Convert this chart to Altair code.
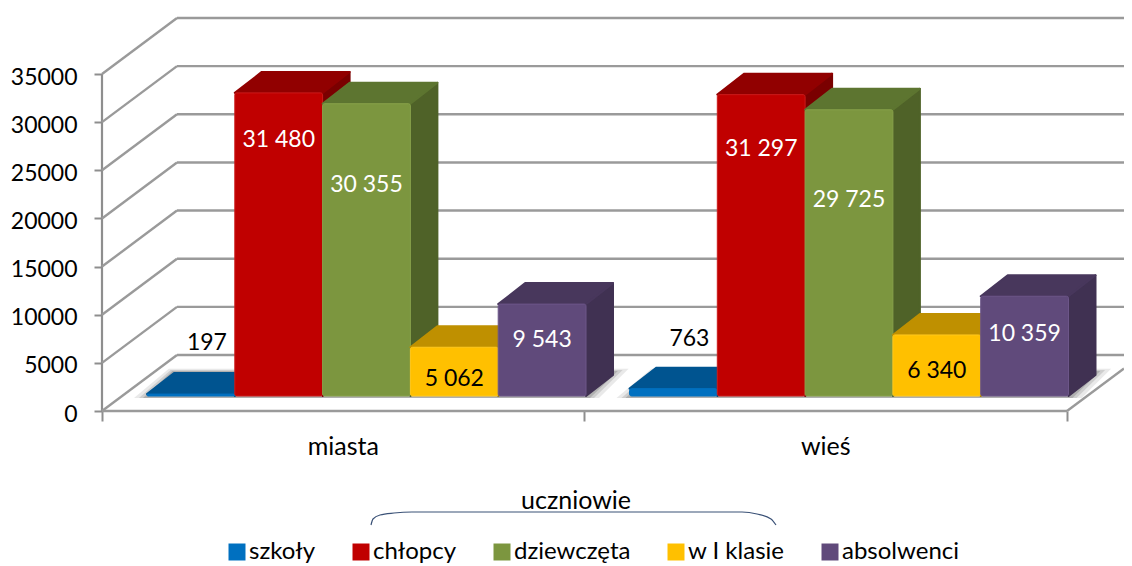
import altair as alt
import pandas as pd

categories = ["miasta", "wieś"]
series = ["szkoły", "chłopcy", "dziewczęta", "w I klasie", "absolwenci"]
miasta = [197, 31480, 30355, 5062, 9543]
wies = [763, 31297, 29725, 6340, 10359]
y_ticks = [0, 5000, 10000, 15000, 20000, 25000, 30000, 35000]
label_lift_miasta = [5500, 26590, 21915, 1770, 5820]
label_lift_wies = [5923, 25657, 20360, 2600, 6443]

front_colors = ["#0070C0", "#C00000", "#7C963F", "#FFC000", "#604A7B"]
edge_colors = ["#0070C0", "#CC1A1A", "#88A24A", "#FFC81E", "#6C5688"]
top_colors = ["#005490", "#910000", "#5D7530", "#BF9000", "#48375C"]
side_colors = ["#004A80", "#7A0000", "#4F6228", "#A67C00", "#403152"]

PX_X = 482.5
PX_Y = 337 / 35000
W, H = 1022, 558
ZERO = 403
x_scale = alt.Scale(domain=[0, W / PX_X], nice=False, zero=False)
y_scale = alt.Scale(domain=[-(H - ZERO) / PX_Y, ZERO / PX_Y], nice=False, zero=False)

def X(px):
    return px / PX_X

def Y(px):
    return px / PX_Y

BW = X(87.8)
START = X(45)
BASE = Y(15)
DX, DY = X(27), Y(21)
WX, WY = X(75), Y(56)
RIGHT = W / PX_X

x_axis = alt.Axis(values=[0, 1, 2], labels=False, domain=False, grid=False, title=None,
                  tickSize=10, tickColor="#8E8E8E", tickWidth=2, offset=-(H - ZERO))
y_axis = alt.Axis(values=y_ticks, domain=False, grid=False, tickSize=8, title=None,
                  tickColor="#8E8E8E", tickWidth=2, labelPadding=17, labelOffset=3,
                  labelFont="Lato", labelFontSize=23, labelColor="#000000", format="d")

def xe(name="x"):
    return alt.X(f"{name}:Q", scale=x_scale, axis=x_axis)

def ye(name="y"):
    return alt.Y(f"{name}:Q", scale=y_scale, axis=y_axis)

layers = []

# value axis line
axis_df = pd.DataFrame({"x": [0.0, 0.0], "y": [0, 35000]})
layers.append(
    alt.Chart(axis_df).mark_line(color="#8E8E8E", strokeWidth=2.2).encode(x=xe(), y=ye())
)

# walls: diagonal + back gridline per tick
grid_rows = []
for t in y_ticks:
    grid_rows.append({"x": 0, "x2": WX, "y": t, "y2": t + WY})
    grid_rows.append({"x": WX, "x2": RIGHT, "y": t + WY, "y2": t + WY})
grid_rows.append({"x": 0, "x2": 2, "y": 0, "y2": 0})
grid_rows.append({"x": 2, "x2": RIGHT, "y": 0, "y2": (RIGHT - 2) / WX * WY})
layers.append(
    alt.Chart(pd.DataFrame(grid_rows)).mark_rule(color="#9A9A9A", strokeWidth=2.4).encode(
        x=xe(), x2="x2:Q", y=ye(), y2="y2:Q"
    )
)

# soft floor shadow beneath the bars
for spread, alpha in [(X(26), 0.13), (X(16), 0.18), (X(8), 0.25)]:
    rows = []
    for c in range(2):
        left = c + START
        right = left + 5 * BW
        low, high = BASE - Y(2), BASE + DY + Y(3 + spread * PX_X / 8)
        rows.append({"c": c, "y": low, "xa": left - spread * 0.5, "xb": right + spread * 0.5})
        rows.append({"c": c, "y": high, "xa": left + DX - spread * 0.2, "xb": right + DX + spread * 0.6})
    layers.append(
        alt.Chart(pd.DataFrame(rows)).mark_area(orient="horizontal", color="#555555", opacity=alpha).encode(
            y=ye(), x=xe("xa"), x2="xb:Q", detail="c:N"
        )
    )

# bars: back faces first, left to right
for i, name in enumerate(series):
    side, top, front = [], [], []
    for c, vals in enumerate([miasta, wies]):
        v = vals[i]
        x0 = c + START + i * BW
        x1 = x0 + BW
        side += [
            {"c": c, "x": x1, "y": BASE, "y2": BASE + v},
            {"c": c, "x": x1 + DX, "y": BASE + DY, "y2": BASE + v + DY},
        ]
        top += [
            {"c": c, "y": BASE + v, "xa": x0, "xb": x1},
            {"c": c, "y": BASE + v + DY, "xa": x0 + DX, "xb": x1 + DX},
        ]
        front.append({"c": categories[c], "series": name, "x": x0, "x2": x1, "y": BASE, "y2": BASE + v})
    layers.append(
        alt.Chart(pd.DataFrame(side)).mark_area(
            color=side_colors[i], stroke=side_colors[i], strokeWidth=2, strokeJoin="round"
        ).encode(x=xe(), y=ye(), y2="y2:Q", detail="c:N")
    )
    layers.append(
        alt.Chart(pd.DataFrame(top)).mark_area(
            orient="horizontal", color=top_colors[i], stroke=top_colors[i], strokeWidth=2, strokeJoin="round"
        ).encode(y=ye(), x=xe("xa"), x2="xb:Q", detail="c:N")
    )
    layers.append(
        alt.Chart(pd.DataFrame(front)).mark_rect(
            cornerRadius=2, stroke=edge_colors[i], strokeWidth=1
        ).encode(
            x=xe(), x2="x2:Q", y=ye(), y2="y2:Q",
            fill=alt.Fill(
                "series:N",
                scale=alt.Scale(domain=series, range=front_colors),
                legend=alt.Legend(
                    title=None, orient="none", legendX=123, legendY=532, columns=5,
                    symbolType="square", symbolSize=289, symbolStrokeWidth=0,
                    labelFont="Lato", labelFontSize=24, labelColor="#000000",
                    columnPadding=33, labelOffset=0, labelLimit=300, rowPadding=0,
                ),
            ),
        )
    )

# data labels
label_rows = []
for c, (vals, lifts) in enumerate([(miasta, label_lift_miasta), (wies, label_lift_wies)]):
    for i, v in enumerate(vals):
        label_rows.append({
            "x": c + START + (i + 0.5) * BW + (X(16) if i == 0 else 0),
            "y": BASE + lifts[i],
            "text": f"{v:,}".replace(",", " "),
            "ink": "#000000" if i in (0, 3) else "#FFFFFF",
        })
labels = pd.DataFrame(label_rows)
for ink in ["#000000", "#FFFFFF"]:
    layers.append(
        alt.Chart(labels[labels.ink == ink]).mark_text(
            font="Lato", fontSize=23, color=ink, align="center", baseline="middle"
        ).encode(x=xe(), y=ye(), text="text:N")
    )

# category labels
cat_df = pd.DataFrame({"x": [0.5, 1.5], "y": [-Y(36)] * 2, "text": categories})
layers.append(
    alt.Chart(cat_df).mark_text(font="Lato", fontSize=25, color="#000000", baseline="middle").encode(
        x=xe(), y=ye(), text="text:N"
    )
)

# bracket with caption
brace_x = [269, 271, 278, 292, 310, 640, 655, 669, 674]
brace_y = [-114, -108, -104, -102, -101, -101, -103, -108, -114]
brace = pd.DataFrame({"x": [X(p) for p in brace_x], "y": [Y(p) for p in brace_y]})
layers.append(
    alt.Chart(brace).mark_line(color="#3B5277", strokeWidth=1.2, interpolate="monotone").encode(
        x=xe(), y=ye()
    )
)
cap = pd.DataFrame({"x": [X(474)], "y": [-Y(90)], "text": ["uczniowie"]})
layers.append(
    alt.Chart(cap).mark_text(font="Lato", fontSize=25, color="#000000", baseline="middle").encode(
        x=xe(), y=ye(), text="text:N"
    )
)

chart = alt.layer(*layers).properties(
    width=W, height=H,
    padding={"left": 94, "top": 0, "right": 0, "bottom": 0},
    autosize="none", background="#FFFFFF",
).configure_view(stroke=None)

chart.save("out.html", embed_options={"renderer": "svg", "actions": False})
